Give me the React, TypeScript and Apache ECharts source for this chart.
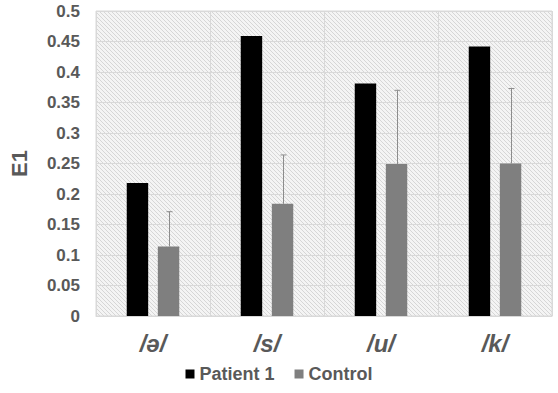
import React, { useEffect, useRef } from "react";
import * as echarts from "echarts";

const categories = ["/ə/", "/s/", "/u/", "/k/"];
const patientValues = [0.218, 0.459, 0.381, 0.442];
const controlValues = [0.114, 0.184, 0.249, 0.25];
const controlErrorTop = [0.171, 0.264, 0.37, 0.373];
const seriesNames = ["Patient 1", "Control"];

const BAR_W = 0.188;
const BAR_GAP = 0.45;

const hatchSvg =
  "data:image/svg+xml;utf8," +
  encodeURIComponent(
    '<svg xmlns="http://www.w3.org/2000/svg" width="4" height="4"><rect width="4" height="4" fill="#f4f4f4"/><path d="M-1,-1 L5,5 M-1,3 L1,5 M3,-1 L5,1" stroke="#d6d6d6" stroke-width="1"/></svg>'
  );

export default function App() {
  const ref = useRef<HTMLDivElement>(null);
  useEffect(() => {
    document.body.style.margin = "0";
    const chart = echarts.init(ref.current!, null, { renderer: "svg" });
    const img = new Image();
    img.src = hatchSvg;
    const errData = controlErrorTop.map((t, i) => [i, controlValues[i], t]);
    chart.setOption({
      animation: false,
      textStyle: { fontFamily: "Liberation Sans, Arial, sans-serif" },
      grid: {
        left: 83,
        right: 6,
        top: 11,
        bottom: 77,
        show: true,
        borderColor: "#d9d9d9",
        borderWidth: 1,
        backgroundColor: { image: img, repeat: "repeat" } as any,
      },
      legend: {
        data: seriesNames,
        bottom: 5,
        left: "center",
        itemWidth: 9,
        itemHeight: 9,
        itemGap: 20,
        icon: "rect",
        textStyle: { fontSize: 18, fontWeight: "bold", color: "#595959" },
      },
      xAxis: {
        type: "category",
        data: categories,
        axisLine: { show: true, lineStyle: { color: "#d9d9d9" } },
        axisTick: { show: false },
        splitLine: { show: true, lineStyle: { color: "#d9d9d9", width: 1 } },
        axisLabel: {
          fontSize: 24,
          fontWeight: "bold",
          fontStyle: "italic",
          color: "#595959",
          margin: 15,
        },
      },
      yAxis: {
        type: "value",
        min: 0,
        max: 0.5,
        interval: 0.05,
        name: "E1",
        nameLocation: "middle",
        nameGap: 66,
        nameTextStyle: { fontSize: 22, fontWeight: "bold", color: "#595959" },
        axisLine: { show: false },
        axisTick: { show: false },
        splitLine: { lineStyle: { color: "#d9d9d9", width: 1 } },
        axisLabel: {
          fontSize: 17,
          fontWeight: "bold",
          color: "#595959",
          margin: 16,
        },
      },
      series: [
        {
          name: seriesNames[0],
          type: "bar",
          data: patientValues,
          barWidth: BAR_W * 100 + "%",
          barGap: BAR_GAP * 100 + "%",
          itemStyle: { color: "#000000" },
        },
        {
          name: seriesNames[1],
          type: "bar",
          data: controlValues,
          barWidth: BAR_W * 100 + "%",
          itemStyle: { color: "#7f7f7f" },
        },
        {
          type: "custom",
          name: "err",
          data: errData,
          z: 10,
          renderItem: (params: any, api: any) => {
            const idx = api.value(0);
            const base = api.coord([idx, api.value(1)]);
            const top = api.coord([idx, api.value(2)]);
            const band = api.size([1, 0])[0];
            const bw = band * BAR_W;
            const off = (bw + bw * BAR_GAP) / 2;
            const x = Math.round(base[0] + off) + 0.5;
            const cap = 3;
            const style = { stroke: "#8c8c8c", lineWidth: 1 };
            return {
              type: "group",
              children: [
                { type: "line", shape: { x1: x, y1: base[1], x2: x, y2: top[1] }, style },
                { type: "line", shape: { x1: x - cap, y1: top[1], x2: x + cap, y2: top[1] }, style },
              ],
            };
          },
        },
      ],
    });
    img.onload = () => chart.resize();
    return () => chart.dispose();
  }, []);
  return <div ref={ref} style={{ width: 558, height: 393 }} />;
}
